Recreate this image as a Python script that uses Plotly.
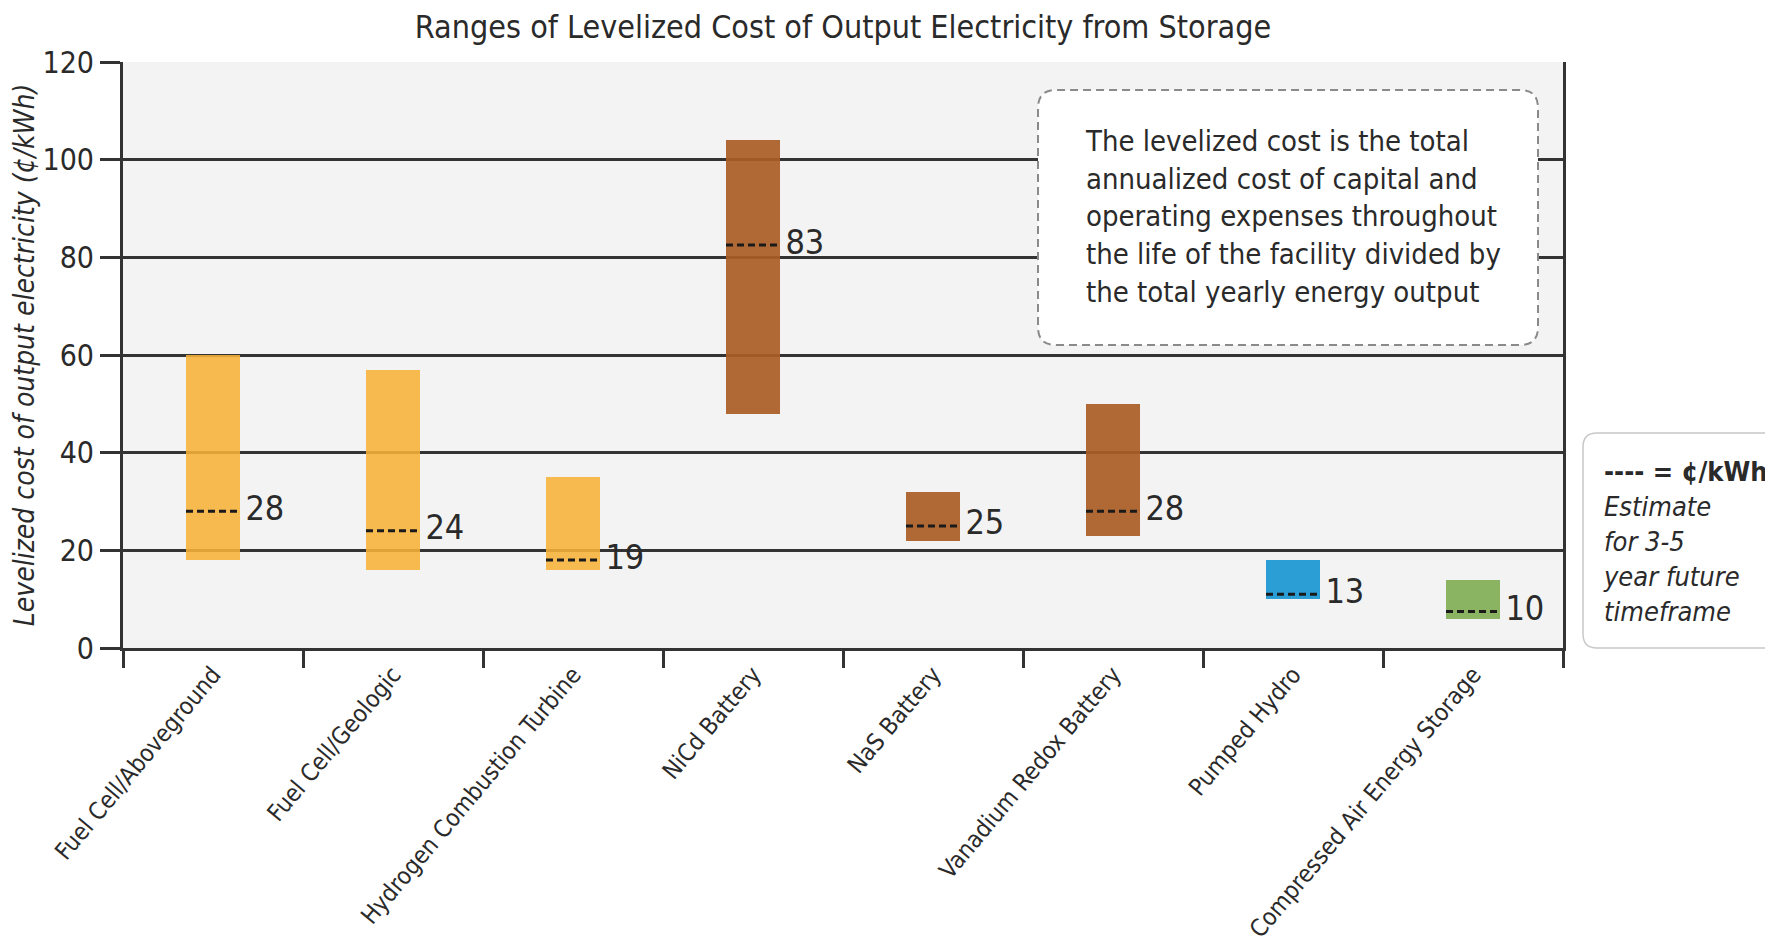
import plotly.graph_objects as go

technologies = ["Fuel Cell/Aboveground", "Fuel Cell/Geologic", "Hydrogen Combustion Turbine",
                "NiCd Battery", "NaS Battery", "Vanadium Redox Battery", "Pumped Hydro",
                "Compressed Air Energy Storage"]
cost_low = [18, 16, 16, 48, 22, 23, 10, 6]
cost_high = [60, 57, 35, 104, 32, 50, 18, 14]
estimate_level = [28, 24, 18, 82.5, 25, 28, 11, 7.5]
estimate_label = [28, 24, 19, 83, 25, 28, 13, 10]

ORANGE = "rgba(247,178,55,0.88)"
BROWN = "rgba(170,92,36,0.92)"
bar_colors = [ORANGE, ORANGE, ORANGE, BROWN, BROWN, BROWN, "#2B9ED6", "#8BB462"]

FONT = "DejaVu Sans Condensed, Liberation Sans Narrow, sans-serif"
INK = "#2a2a2a"
BAR_W = 0.3
LABEL_PAD = 0.03

# the page body adds an 8px margin, so target screen pixels are shifted by it
OFF = 8
W, H = 1773, 946
L, R, T, B = 123 - OFF, 1563 - OFF, 62 - OFF, 648 - OFF


def px(x, y):
    # screen pixel -> paper coords
    return (x - OFF - L) / (R - L), (B - (y - OFF)) / (B - T)


def rounded_box(x0, y0, x1, y1, r):
    rx = r / (R - L)
    ry = r / (B - T)
    a0, b0 = px(x0, y1)
    a1, b1 = px(x1, y0)
    return (f"M {a0 + rx} {b0} L {a1 - rx} {b0} Q {a1} {b0} {a1} {b0 + ry} "
            f"L {a1} {b1 - ry} Q {a1} {b1} {a1 - rx} {b1} L {a0 + rx} {b1} "
            f"Q {a0} {b1} {a0} {b1 - ry} L {a0} {b0 + ry} Q {a0} {b0} {a0 + rx} {b0} Z")


fig = go.Figure()

fig.add_trace(go.Bar(
    x=technologies,
    y=[h - l for h, l in zip(cost_high, cost_low)],
    base=cost_low,
    width=BAR_W,
    marker=dict(color=bar_colors, line=dict(width=0)),
    showlegend=False,
    hoverinfo="skip",
))

dash_x, dash_y = [], []
for i, lvl in enumerate(estimate_level):
    dash_x += [i - BAR_W / 2, i + BAR_W / 2, None]
    dash_y += [lvl, lvl, None]

fig.add_trace(go.Scatter(
    x=dash_x, y=dash_y, xaxis="x2", mode="lines",
    line=dict(color="#1a1a1a", width=3, dash="7px,4px"),
    showlegend=False, hoverinfo="skip",
))

fig.add_trace(go.Scatter(
    x=[i + BAR_W / 2 + LABEL_PAD for i in range(len(technologies))],
    y=estimate_level, xaxis="x2", mode="text",
    text=[str(v) for v in estimate_label],
    textposition="middle right",
    textfont=dict(family=FONT, size=34, color=INK),
    showlegend=False, hoverinfo="skip",
))

shapes = [
    dict(type="path", xref="paper", yref="paper", layer="above",
         path=rounded_box(1038, 90, 1538, 345, 18),
         fillcolor="white", line=dict(color="#8a8a8a", width=2, dash="8px,5px")),
    dict(type="path", xref="paper", yref="paper", layer="above",
         path=rounded_box(1583, 433, 1800, 648, 14),
         fillcolor="white", line=dict(color="#c8c8c8", width=1.5)),
]

annotations = [
    dict(xref="paper", yref="paper", x=px(1083, 0)[0], y=px(0, 122)[1],
         xanchor="left", yanchor="top", align="left", showarrow=False,
         text=("The levelized cost is the total<br>annualized cost of capital and<br>"
               "operating expenses throughout<br>the life of the facility divided by<br>"
               "the total yearly energy output"),
         font=dict(family=FONT, size=29, color=INK)),
    dict(xref="paper", yref="paper", x=px(1601, 0)[0], y=px(0, 454)[1],
         xanchor="left", yanchor="top", align="left", showarrow=False,
         text="<b>---- = ¢/kWh</b><br><i>Estimate<br>for 3-5<br>year future<br>timeframe</i>",
         font=dict(family=FONT, size=27, color=INK)),
]

fig.update_layout(
    width=W, height=H,
    margin=dict(l=L, r=W - R, t=T, b=H - B, autoexpand=False),
    paper_bgcolor="white",
    plot_bgcolor="#f3f3f3",
    font=dict(family=FONT, color=INK),
    title=dict(text="Ranges of Levelized Cost of Output Electricity from Storage",
               x=0.5, xref="paper", xanchor="center",
               y=1 - (27 - OFF) / H, yanchor="middle",
               font=dict(family=FONT, size=32, color=INK)),
    xaxis=dict(type="category", range=[-0.5, 7.5], tickson="boundaries",
               ticks="outside", ticklen=17, tickwidth=3, tickcolor="#333",
               showline=True, linewidth=3, linecolor="#333", automargin=False,
               showgrid=False, tickangle=-50,
               tickfont=dict(family=FONT, size=24, color=INK)),
    xaxis2=dict(overlaying="x", range=[-0.5, 7.5], visible=False, anchor="y"),
    yaxis=dict(range=[0, 120], dtick=20, ticks="outside", ticklen=20, tickwidth=3,
               tickcolor="#333", showline=True, mirror=True, linewidth=3,
               linecolor="#333", showgrid=True, gridcolor="#333", gridwidth=2.5,
               zeroline=False, automargin=False,
               tickfont=dict(family=FONT, size=30, color=INK),
               title=dict(text="<i>Levelized cost of output electricity (¢/kWh)</i>",
                          standoff=0,
                          font=dict(family=FONT, size=28, color=INK))),
    shapes=shapes,
    annotations=annotations,
    bargap=0,
)

fig.write_html("out.html")
